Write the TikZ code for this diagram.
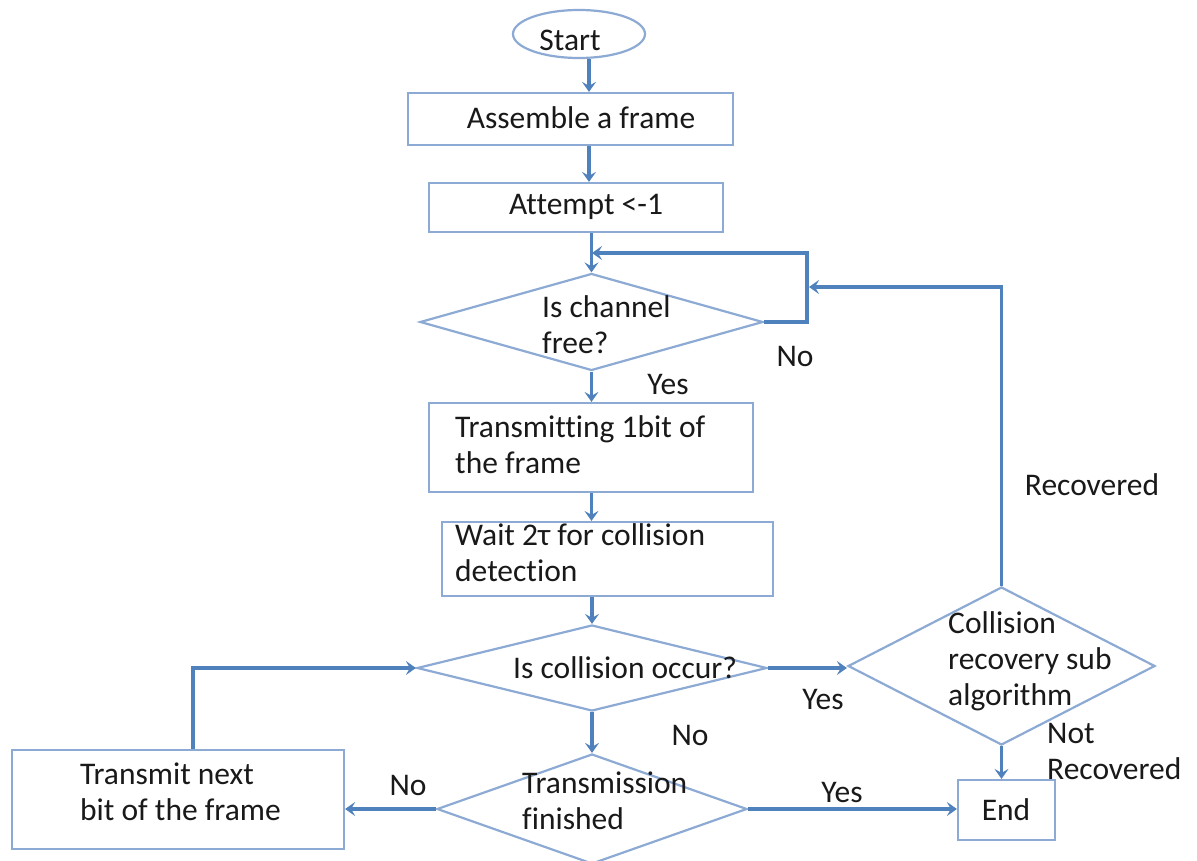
\documentclass[tikz,border=0pt]{standalone}
\usepackage{fontspec}
\setmainfont[Ligatures=NoCommon]{Carlito}
\usetikzlibrary{shapes.geometric,arrows.meta}
\definecolor{shapec}{RGB}{140,170,212}
\definecolor{arrowc}{RGB}{79,129,189}
\definecolor{txtc}{RGB}{25,25,25}
\begin{document}
\begin{tikzpicture}[x=1pt,y=-1pt,
  box/.style={draw=shapec,line width=2.2pt,rectangle,inner sep=0pt},
  dia/.style={draw=shapec,line width=2.2pt,diamond,inner sep=0pt},
  oval/.style={draw=shapec,line width=2.2pt,ellipse,inner sep=0pt},
  txt/.style={inner sep=0pt,text=txtc,font=\fontsize{31.5}{36}\selectfont,align=left},
  conn/.style={draw=arrowc,line width=3.2pt,-{Stealth[length=10pt,width=14pt,inset=4pt]}}
]
\useasboundingbox (0,0) rectangle (1197,861);
\fill[white] (0,0) rectangle (1197,861);

% shapes
\node[oval,minimum width=132pt,minimum height=48pt] (start) at (579,34) {};
\node[box,minimum width=325pt,minimum height=52pt] (asm) at (570.5,119) {};
\node[box,minimum width=294pt,minimum height=49pt] (att) at (576,207.5) {};
\node[dia,minimum width=343pt,minimum height=97pt] (d1) at (591.5,322) {};
\node[box,minimum width=324pt,minimum height=89pt] (tx) at (591,447.5) {};
\node[box,minimum width=331pt,minimum height=74pt] (wait) at (607.5,559) {};
\node[dia,minimum width=350pt,minimum height=86pt] (d2) at (592,668) {};
\node[dia,minimum width=310pt,minimum height=110pt] (d3) at (592,809) {};
\node[box,minimum width=332pt,minimum height=99pt] (next) at (178,799.5) {};
\node[dia,minimum width=307pt,minimum height=158pt] (d4) at (1001.5,666) {};
\node[box,minimum width=97pt,minimum height=60pt] (end) at (1006.5,810) {};

% texts
\node[txt] (t-start) at (570,40) {Start};
\node[txt] (t-asm) at (581,118) {Assemble a frame};
\node[txt] (t-att) at (586,207) {Attempt <-1};
\node[txt,anchor=west] (t-d1) at (542,325) {Is channel\\free?};
\node[txt,anchor=west] (t-tx) at (455,445) {Transmitting 1bit of\\the frame};
\node[txt,anchor=west] (t-wait) at (455,553) {Wait 2τ for collision\\detection};
\node[txt,anchor=west] (t-d2) at (513,668) {Is collision occur?};
\node[txt,anchor=west] (t-d3) at (522,801) {Transmission\\finished};
\node[txt,anchor=west] (t-next) at (80,792) {Transmit next\\bit of the frame};
\node[txt,anchor=west] (t-d4) at (948,661) {Collision\\recovery sub\\algorithm};
\node[txt] (t-end) at (1006,810) {End};

% labels
\node[txt] (l-no1) at (795,357) {No};
\node[txt] (l-yes1) at (668,385) {Yes};
\node[txt] (l-rec) at (1092,485) {Recovered};
\node[txt] (l-yes2) at (823,700) {Yes};
\node[txt] (l-no2) at (690,735) {No};
\node[txt] (l-no3) at (408,785) {No};
\node[txt] (l-yes3) at (842,793) {Yes};
\node[txt,anchor=west] (l-notrec) at (1047,751) {Not\\Recovered};

% helper coordinates
\coordinate (colx) at (589,0);
\coordinate (m1) at (592,253);
\coordinate (r1) at (807,0);
\coordinate (m2) at (809,287);
\coordinate (fb) at (193,0);

% connectors
\draw[conn] (start.south -| colx) -- (asm.north -| colx);
\draw[conn] (asm.south -| colx) -- (att.north -| colx);
\draw[conn] (att.south -| d1.north) -- (d1.north);
\draw[conn] (d1.east) -| (r1 |- m1) -- (m1);
\draw[conn] (d1.south) -- (tx.north -| d1.south);
\draw[conn] (tx.south -| d1.south) -- (wait.north -| d1.south);
\draw[conn] (wait.south -| d2.north) -- (d2.north);
\draw[conn] (d2.east) -- (d2.east -| d4.west);
\draw[conn] (d2.south) -- (d3.north);
\draw[conn] (d3.west) -- (d3.west -| next.east);
\draw[conn] (next.north -| fb) |- (d2.west);
\draw[conn] (d3.east) -- (d3.east -| end.west);
\draw[conn] (d4.south) -- (d4.south |- end.north);
\draw[conn] (d4.north) -- (d4.north |- m2) -- (m2);
\end{tikzpicture}
\end{document}
